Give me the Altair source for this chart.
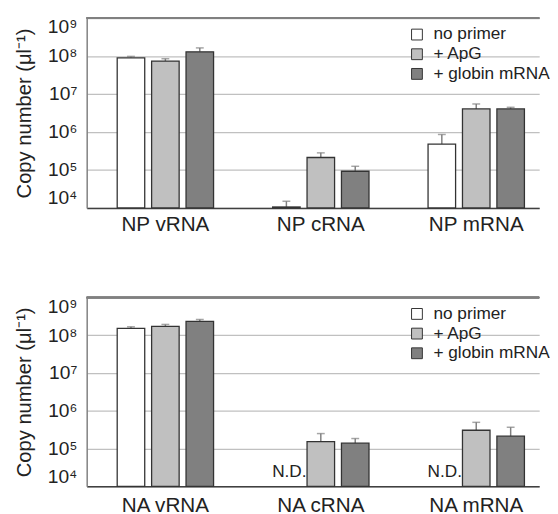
import altair as alt
import pandas as pd

conditions = ["no primer", "+ ApG", "+ globin mRNA"]
np_targets = ["NP vRNA", "NP cRNA", "NP mRNA"]
na_targets = ["NA vRNA", "NA cRNA", "NA mRNA"]

# NP panel (values and upper error ends)
np_no_primer = [9.0e7, 1.06e4, 4.8e5]
np_no_primer_err = [9.8e7, 1.5e4, 8.6e5]
np_apg = [7.4e7, 2.13e5, 4.06e6]
np_apg_err = [8.5e7, 2.82e5, 5.47e6]
np_globin = [1.29e8, 9.25e4, 4.06e6]
np_globin_err = [1.64e8, 1.25e5, 4.47e6]

# NA panel (None = not detected)
na_no_primer = [1.51e8, None, None]
na_no_primer_err = [1.67e8, None, None]
na_apg = [1.71e8, 1.53e5, 3.05e5]
na_apg_err = [1.93e8, 2.49e5, 4.94e5]
na_globin = [2.31e8, 1.39e5, 2.12e5]
na_globin_err = [2.61e8, 1.84e5, 3.66e5]

nd_label = "N.D."
y_ticks = [1e4, 1e5, 1e6, 1e7, 1e8, 1e9]
colors = ["#ffffff", "#c0c0c0", "#808080"]

FONT = "Liberation Sans"
TXT = "#222222"


def make_df(targets, series, errs):
    rows = []
    for cond, vals, es in zip(conditions, series, errs):
        for t, v, e in zip(targets, vals, es):
            rows.append({"target": t, "cond": cond, "value": v, "err": e})
    return pd.DataFrame(rows)


def panel(df, targets, height, nd_rows, label_pad):
    xs = alt.X(
        "target:N",
        sort=targets,
        scale=alt.Scale(domain=targets, paddingInner=0.38, paddingOuter=0.1456, align=0.674),
        axis=alt.Axis(
            title=None, labelFontSize=21, labelPadding=label_pad, ticks=False,
            domainColor="#404040", domainWidth=1.5, labelColor=TXT,
            labelAngle=0, grid=False,
        ),
    )
    xo = alt.XOffset(
        "cond:N", sort=conditions,
        scale=alt.Scale(domain=conditions, paddingInner=0.2, paddingOuter=0),
    )
    ys = alt.Y(
        "value:Q",
        scale=alt.Scale(type="log", domain=[1e4, 1e9]),
        axis=alt.Axis(
            values=y_ticks,
            labelExpr="'10' + ['\u2070','\u00b9','\u00b2','\u00b3','\u2074','\u2075','\u2076','\u2077','\u2078','\u2079'][round(log(datum.value)/LN10)]",
            title="Copy number (\u03bcl\u207b\u00b9)",
            titleFontSize=20.5, titleFontWeight="normal", titleColor=TXT,
            titlePadding=13,
            labelFontSize=19.5, labelColor=TXT, labelPadding=10, labelFlush=True,
            grid=True, gridColor="#c0c0c0", gridWidth=1.2,
            ticks=False, domainColor="#808080", domainWidth=1.5,
        ),
    )
    base = alt.Chart(df).transform_filter("isValid(datum.value)")
    bars = base.mark_bar(stroke="#333333", strokeWidth=1.3).encode(
        x=xs, xOffset=xo, y=ys, y2=alt.datum(1e4),
        color=alt.Color(
            "cond:N",
            scale=alt.Scale(domain=conditions, range=colors),
            legend=alt.Legend(
                title=None, orient="none", legendX=327, legendY=8, padding=0,
                symbolType="square", symbolSize=121, symbolStrokeColor="#333333",
                symbolStrokeWidth=1, labelFontSize=17.5, labelColor=TXT,
                labelOffset=8, rowPadding=1,
            ),
        ),
    )
    rules = base.mark_rule(color="#808080", strokeWidth=1.5).encode(
        x=xs, xOffset=xo, y="value:Q", y2="err:Q"
    )
    caps = base.mark_tick(orient="horizontal", size=8, thickness=1.5, color="#808080").encode(
        x=xs, xOffset=xo, y="err:Q"
    )
    top_line = alt.Chart(df).mark_rule(color="#808080", strokeWidth=1.5).encode(
        y=alt.datum(1e9)
    )
    layers = [rules, caps, bars, top_line]
    if nd_rows:
        nd_df = pd.DataFrame(nd_rows)
        nd = alt.Chart(nd_df).mark_text(
            fontSize=17.5, color=TXT, baseline="alphabetic", dy=-9, dx=3
        ).encode(x=xs, xOffset=xo, y=alt.datum(1e4), text="label:N")
        layers.append(nd)
    return alt.layer(*layers).properties(width=460, height=height)


np_df = make_df(np_targets, [np_no_primer, np_apg, np_globin],
                [np_no_primer_err, np_apg_err, np_globin_err])
na_df = make_df(na_targets, [na_no_primer, na_apg, na_globin],
                [na_no_primer_err, na_apg_err, na_globin_err])

nd_rows = [
    {"target": t, "cond": conditions[0], "label": nd_label}
    for t, v in zip(na_targets, na_no_primer) if v is None
]

top = panel(np_df, np_targets, 193, None, 6)
bottom = panel(na_df, na_targets, 192, nd_rows, 9)

chart = (
    alt.vconcat(top, bottom, spacing=63)
    .resolve_legend(color="independent")
    .resolve_scale(x="independent", y="independent", color="independent")
    .configure(font=FONT)
    .configure_view(stroke=None)
    .properties(padding={"left": 6, "top": 5, "right": 0, "bottom": 0})
)

chart.save("out.html", embed_options={"renderer": "svg", "actions": False})
